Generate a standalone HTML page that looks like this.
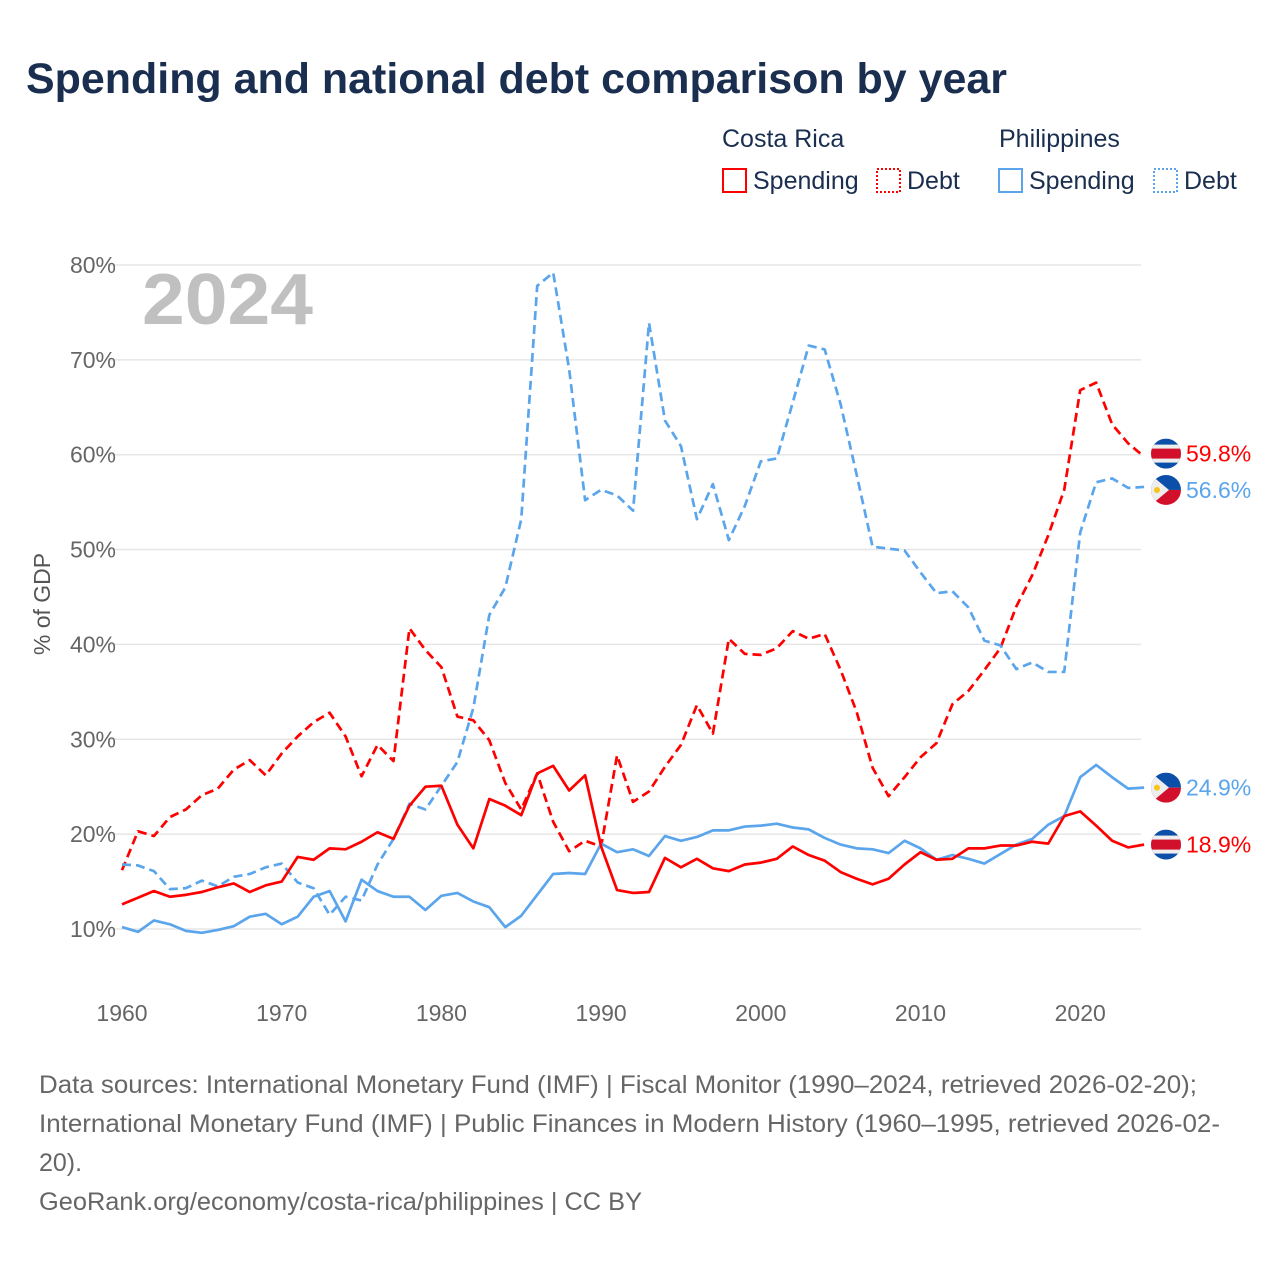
<!DOCTYPE html>
<html><head><meta charset="utf-8"><style>
body{margin:0;width:1280px;height:1280px;background:#fff;font-family:"Liberation Sans",sans-serif;overflow:hidden}
svg text{font-family:"Liberation Sans",sans-serif}
</style></head><body>
<svg id="c" width="1280" height="1280">
<text x="26" y="93" font-size="43" font-weight="bold" fill="#1a2e4f" textLength="981" lengthAdjust="spacingAndGlyphs">Spending and national debt comparison by year</text>
<g font-size="25" fill="#1a2e4f">
<text x="722" y="147" fill="#1a2e4f">Costa Rica</text>
<text x="999" y="147" fill="#1a2e4f">Philippines</text>
<rect x="723" y="169" width="23" height="23" fill="none" stroke="#f00" stroke-width="2"/>
<text x="753" y="189" fill="#1a2e4f">Spending</text>
<rect x="877" y="169" width="23" height="23" fill="none" stroke="#f00" stroke-width="2" stroke-dasharray="2,2"/>
<text x="907" y="189" fill="#1a2e4f">Debt</text>
<rect x="999" y="169" width="23" height="23" fill="none" stroke="#5aa5ec" stroke-width="2"/>
<text x="1029" y="189" fill="#1a2e4f">Spending</text>
<rect x="1154" y="169" width="23" height="23" fill="none" stroke="#5aa5ec" stroke-width="2" stroke-dasharray="2,2"/>
<text x="1184" y="189" fill="#1a2e4f">Debt</text>
</g>
<text x="142" y="324" font-size="72" font-weight="bold" fill="#c0c0c0" textLength="171" lengthAdjust="spacingAndGlyphs">2024</text>
<text transform="translate(50,604) rotate(-90)" text-anchor="middle" font-size="23" fill="#555">% of GDP</text>
<g id="grid"></g><g id="lines"></g><g id="ends"></g>
<g font-size="25" fill="#666">
<text x="39" y="1093" fill="#666" textLength="1158" lengthAdjust="spacingAndGlyphs">Data sources: International Monetary Fund (IMF) | Fiscal Monitor (1990–2024, retrieved 2026-02-20);</text>
<text x="39" y="1132" fill="#666" textLength="1181" lengthAdjust="spacingAndGlyphs">International Monetary Fund (IMF) | Public Finances in Modern History (1960–1995, retrieved 2026-02-</text>
<text x="39" y="1171" fill="#666">20).</text>
<text x="39" y="1210" fill="#666" textLength="603" lengthAdjust="spacingAndGlyphs">GeoRank.org/economy/costa-rica/philippines | CC BY</text>
</g>
</svg>
<script>
const years=[];for(let y=1960;y<=2024;y++)years.push(y);
const crSpending=[12.6,13.3,14.0,13.4,13.6,13.9,14.4,14.8,13.9,14.6,15.0,17.6,17.3,18.5,18.4,19.2,20.2,19.5,23.0,25.0,25.1,21.0,18.5,23.7,23.0,22.0,26.4,27.2,24.6,26.2,18.7,14.1,13.8,13.9,17.5,16.5,17.4,16.4,16.1,16.8,17.0,17.4,18.7,17.8,17.2,16.0,15.3,14.7,15.3,16.8,18.1,17.3,17.4,18.5,18.5,18.8,18.8,19.2,19.0,21.9,22.4,20.9,19.3,18.6,18.9];
const crDebt=[16.2,20.3,19.8,21.8,22.6,24.1,24.8,26.8,27.8,26.2,28.5,30.3,31.8,32.8,30.3,26.1,29.4,27.7,41.7,39.4,37.6,32.4,32.0,29.9,25.4,22.6,26.4,21.3,18.2,19.3,18.7,28.3,23.4,24.5,27.1,29.4,33.6,30.6,40.6,39.0,38.9,39.6,41.4,40.6,41.1,37.3,32.9,27.0,24.0,26.0,28.1,29.6,33.7,35.1,37.3,39.6,44.0,47.3,51.5,56.3,66.8,67.6,63.2,61.2,59.8];
const phSpending=[10.2,9.7,10.9,10.5,9.8,9.6,9.9,10.3,11.3,11.6,10.5,11.3,13.4,14.0,10.8,15.2,14.0,13.4,13.4,12.0,13.5,13.8,12.9,12.3,10.2,11.4,13.6,15.8,15.9,15.8,19.0,18.1,18.4,17.7,19.8,19.3,19.7,20.4,20.4,20.8,20.9,21.1,20.7,20.5,19.6,18.9,18.5,18.4,18.0,19.3,18.5,17.3,17.8,17.4,16.9,17.9,18.9,19.5,21.0,21.9,26.0,27.3,26.0,24.8,24.9];
const phDebt=[16.8,16.7,16.1,14.2,14.3,15.1,14.5,15.5,15.8,16.5,16.9,14.9,14.3,11.5,13.4,13.0,16.8,19.5,23.2,22.6,25.1,27.6,33.3,43.1,46.0,53.2,77.8,79.2,69.0,55.2,56.3,55.7,54.1,73.9,63.6,60.9,53.2,56.9,51.0,54.6,59.3,59.6,65.5,71.5,71.1,65.3,57.9,50.3,50.1,49.9,47.6,45.4,45.6,43.9,40.4,39.9,37.4,38.1,37.1,37.1,51.8,57.1,57.5,56.5,56.6];
const yTicks=[10,20,30,40,50,60,70,80];
const xTicks=[1960,1970,1980,1990,2000,2010,2020];
const X=y=>122+(y-1960)*15.97, Y=v=>929-(v-10)*9.486;
const NS="http://www.w3.org/2000/svg";
function mk(t,a,p){const e=document.createElementNS(NS,t);for(const k in a)e.setAttribute(k,a[k]);p.appendChild(e);return e;}
const grid=document.getElementById('grid');
yTicks.forEach(v=>{
 const l=mk('line',{x1:108,x2:1141,y1:Y(v),y2:Y(v),stroke:'#e6e6e6','stroke-width':1.5},grid);
 
 
 const t=mk('text',{x:116,y:Y(v)+8,'text-anchor':'end','font-size':23,fill:'#666'},grid);t.textContent=v+'%';
 
 
});
xTicks.forEach(y=>{
 const t=mk('text',{x:X(y),y:1021,'text-anchor':'middle','font-size':23,fill:'#666'},grid);t.textContent=y;
 
 
});
const lines=document.getElementById('lines');
const series=[[crDebt,'#f00',true,'cr-debt'],[phDebt,'#5aa5ec',true,'ph-debt'],[phSpending,'#5aa5ec',false,'ph-spending'],[crSpending,'#f00',false,'cr-spending']];
series.forEach(([d,c,dash,n])=>{
 const a={points:d.map((v,i)=>X(years[i])+','+Y(v)).join(' '),fill:'none',stroke:c,'stroke-width':2.7,'stroke-linejoin':'round'};
 if(dash)a['stroke-dasharray']='9,5';
 const p=mk('polyline',a,lines);
 
 
});
const ends=document.getElementById('ends');
function flag(cx,cy,cr,name){
 const g=mk('g',{},ends);
 
 
 const id='cl'+name;const cp=mk('clipPath',{id:id},g);mk('circle',{cx:cx,cy:cy,r:15},cp);
 const h=mk('g',{'clip-path':'url(#'+id+')'},g);
 if(cr){mk('rect',{x:cx-15,y:cy-15,width:30,height:30,fill:'#0b4fa8'},h);mk('rect',{x:cx-15,y:cy-9,width:30,height:18,fill:'#eee'},h);mk('rect',{x:cx-15,y:cy-5,width:30,height:10,fill:'#d3102c'},h);}
 else{mk('rect',{x:cx-15,y:cy-15,width:30,height:15,fill:'#0b4fa8'},h);mk('rect',{x:cx-15,y:cy,width:30,height:15,fill:'#d3102c'},h);mk('polygon',{points:(cx-15)+','+(cy-15)+' '+(cx+3)+','+cy+' '+(cx-15)+','+(cy+15),fill:'#eee'},h);mk('circle',{cx:cx-9,cy:cy,r:3,fill:'#f5c518'},h);}
}
const last=years.length-1;
[[crDebt,'#f00',true,'cr-debt',-3],[phDebt,'#5aa5ec',false,'ph-debt',3],[phSpending,'#5aa5ec',false,'ph-spending',0],[crSpending,'#f00',true,'cr-spending',0]].forEach(([d,c,cr,n,off])=>{
 const cy=Y(d[last])+off;
 flag(1166,cy,cr,n+'-flag');
 const t=mk('text',{x:1186,y:cy+8,'font-size':23,fill:c},ends);t.textContent=d[last].toFixed(1)+'%';
 
 
});
</script>
</body></html>
